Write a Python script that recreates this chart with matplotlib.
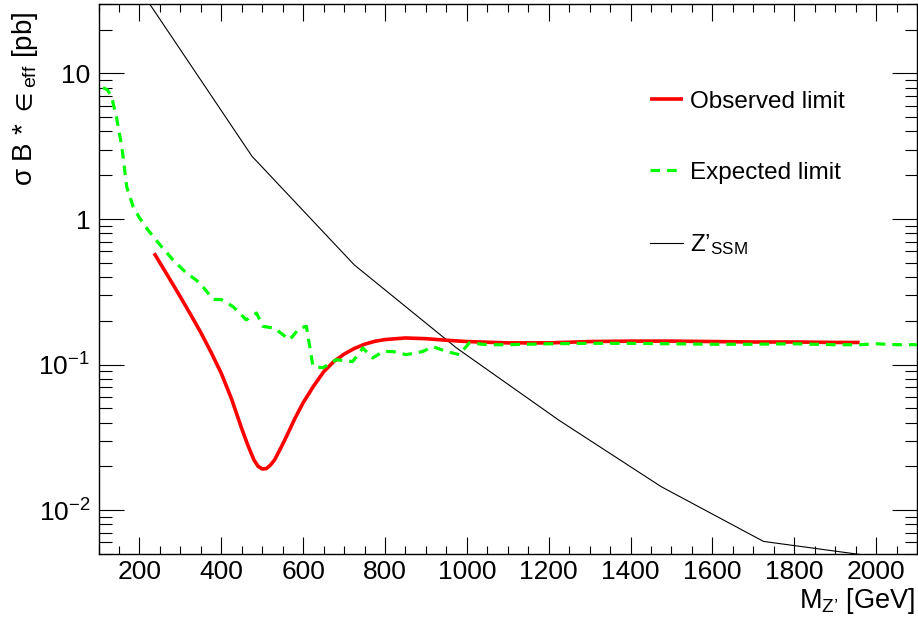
import matplotlib
matplotlib.use("Agg")
import matplotlib.pyplot as plt
import matplotlib.ticker as mticker

# ── Styling (ROOT-like look) ───────────────────────────────────────────────────
plt.rcParams.update({
    "font.family": ["Liberation Sans", "DejaVu Sans"],
    "mathtext.fontset": "custom",
    "mathtext.rm": "Liberation Sans",
    "mathtext.it": "Liberation Sans:italic",
    "mathtext.bf": "Liberation Sans:bold",
    "mathtext.fallback": "stixsans",
    "axes.linewidth": 1.0,
})

RED = "#ff0000"
GREEN = "#00ff00"
BLACK = "#000000"

# ── Data ───────────────────────────────────────────────────────────────────────
obs_mass = [236, 250, 275, 300, 325, 350, 375, 400, 425, 450, 465, 480, 490,
            500, 510, 520, 530, 545, 560, 580, 600, 625, 650, 675, 700, 725,
            750, 775, 800, 850, 900, 950, 1000, 1100, 1200, 1300, 1400, 1500,
            1600, 1700, 1800, 1900, 1960]
obs_limit = [0.582, 0.501, 0.383, 0.292, 0.221, 0.166, 0.1216, 0.0871, 0.0582,
             0.0363, 0.0279, 0.0221, 0.0200, 0.0192, 0.0193, 0.0204, 0.0221,
             0.0266, 0.0324, 0.0427, 0.0547, 0.0708, 0.0891, 0.105, 0.118,
             0.129, 0.138, 0.1445, 0.1486, 0.1524, 0.1507, 0.147, 0.144, 0.141,
             0.141, 0.144, 0.145, 0.145, 0.144, 0.143, 0.143, 0.142, 0.142]

exp_mass = [111, 122, 132, 144, 157, 169, 185, 200, 221, 234, 254, 282, 311,
            348, 380, 400, 429, 461, 486, 502, 530, 567, 591, 608, 624, 648,
            681, 721, 746, 770, 795, 819, 852, 892, 917, 950, 982, 1006, 1050,
            1100, 1200, 1300, 1400, 1500, 1600, 1700, 1800, 1900, 1960, 2000,
            2050, 2100]
exp_limit = [8.0, 7.7, 6.9, 5.0, 3.13, 1.66, 1.21, 1.02, 0.84, 0.757, 0.646,
             0.524, 0.436, 0.363, 0.28, 0.28, 0.25, 0.203, 0.226, 0.183, 0.178,
             0.148, 0.178, 0.183, 0.0975, 0.095, 0.108, 0.105, 0.130, 0.111,
             0.123, 0.123, 0.117, 0.123, 0.133, 0.123, 0.117, 0.141, 0.137,
             0.137, 0.139, 0.140, 0.140, 0.139, 0.138, 0.138, 0.139, 0.137,
             0.137, 0.139, 0.137, 0.137]

ssm_mass = [225, 475, 725, 975, 1225, 1475, 1725, 1975]
ssm_xsec = [30.0, 2.70, 0.484, 0.130, 0.0415, 0.0145, 0.0061, 0.0049]

YTICK_TEXT = {10: "10", 1: "1", 0.1: "$10^{-1}$", 0.01: "$10^{-2}$"}

# ── Figure ─────────────────────────────────────────────────────────────────────
fig = plt.figure(figsize=(9.18, 6.21), dpi=100)
ax = fig.add_axes([98.5 / 918, 67 / 621, 818.5 / 918, 550 / 621])

ax.plot(obs_mass, obs_limit, color=RED, lw=2.6, solid_capstyle="butt",
        solid_joinstyle="round", label="Observed limit", zorder=3)
ax.plot(exp_mass, exp_limit, color=GREEN, lw=2.3, dashes=(3.0, 2.2),
        label="Expected limit", zorder=4)
ax.plot(ssm_mass, ssm_xsec, color=BLACK, lw=0.8,
        label="Z’$_{\\mathregular{SSM}}$", zorder=2)

ax.set_yscale("log")
ax.set_xlim(100, 2100)
ax.set_ylim(0.005, 30)

ax.xaxis.set_major_locator(mticker.MultipleLocator(200))
ax.xaxis.set_minor_locator(mticker.MultipleLocator(50))
ax.xaxis.set_major_formatter(mticker.FuncFormatter(
    lambda x, _: f"{int(x)}" if 200 <= x <= 2000 else ""))

ax.yaxis.set_major_locator(mticker.FixedLocator(list(YTICK_TEXT.keys())))
ax.yaxis.set_minor_locator(mticker.LogLocator(base=10, subs=range(2, 10), numticks=20))
ax.yaxis.set_major_formatter(mticker.FuncFormatter(
    lambda y, _: YTICK_TEXT.get(round(y, 4), "")))
ax.yaxis.set_minor_formatter(mticker.NullFormatter())

ax.tick_params(which="both", direction="in", top=True, right=True, width=0.8,
               labelsize=19)
ax.tick_params(axis="x", which="major", length=12, pad=4)
ax.tick_params(axis="x", which="minor", length=6)
ax.tick_params(axis="y", which="major", length=18, pad=6)
ax.tick_params(axis="y", which="minor", length=9)

ax.set_xlabel("M$_{\\mathregular{Z’}}$ [GeV]", fontsize=19.5, loc="right")
ax.set_ylabel("σ B * $\\in_{\\mathregular{eff}}$ [pb]", fontsize=20, loc="top")
ax.xaxis.set_label_coords(0.9976, -0.058)
ax.yaxis.set_label_coords(-0.072, 0.986)

ax.legend(loc="upper left", bbox_to_anchor=(0.674, 0.842), frameon=False,
          fontsize=17.5, handlelength=1.35, handletextpad=0.3, labelspacing=2.0,
          borderpad=0, borderaxespad=0)

fig.savefig("out.png", dpi=100)
